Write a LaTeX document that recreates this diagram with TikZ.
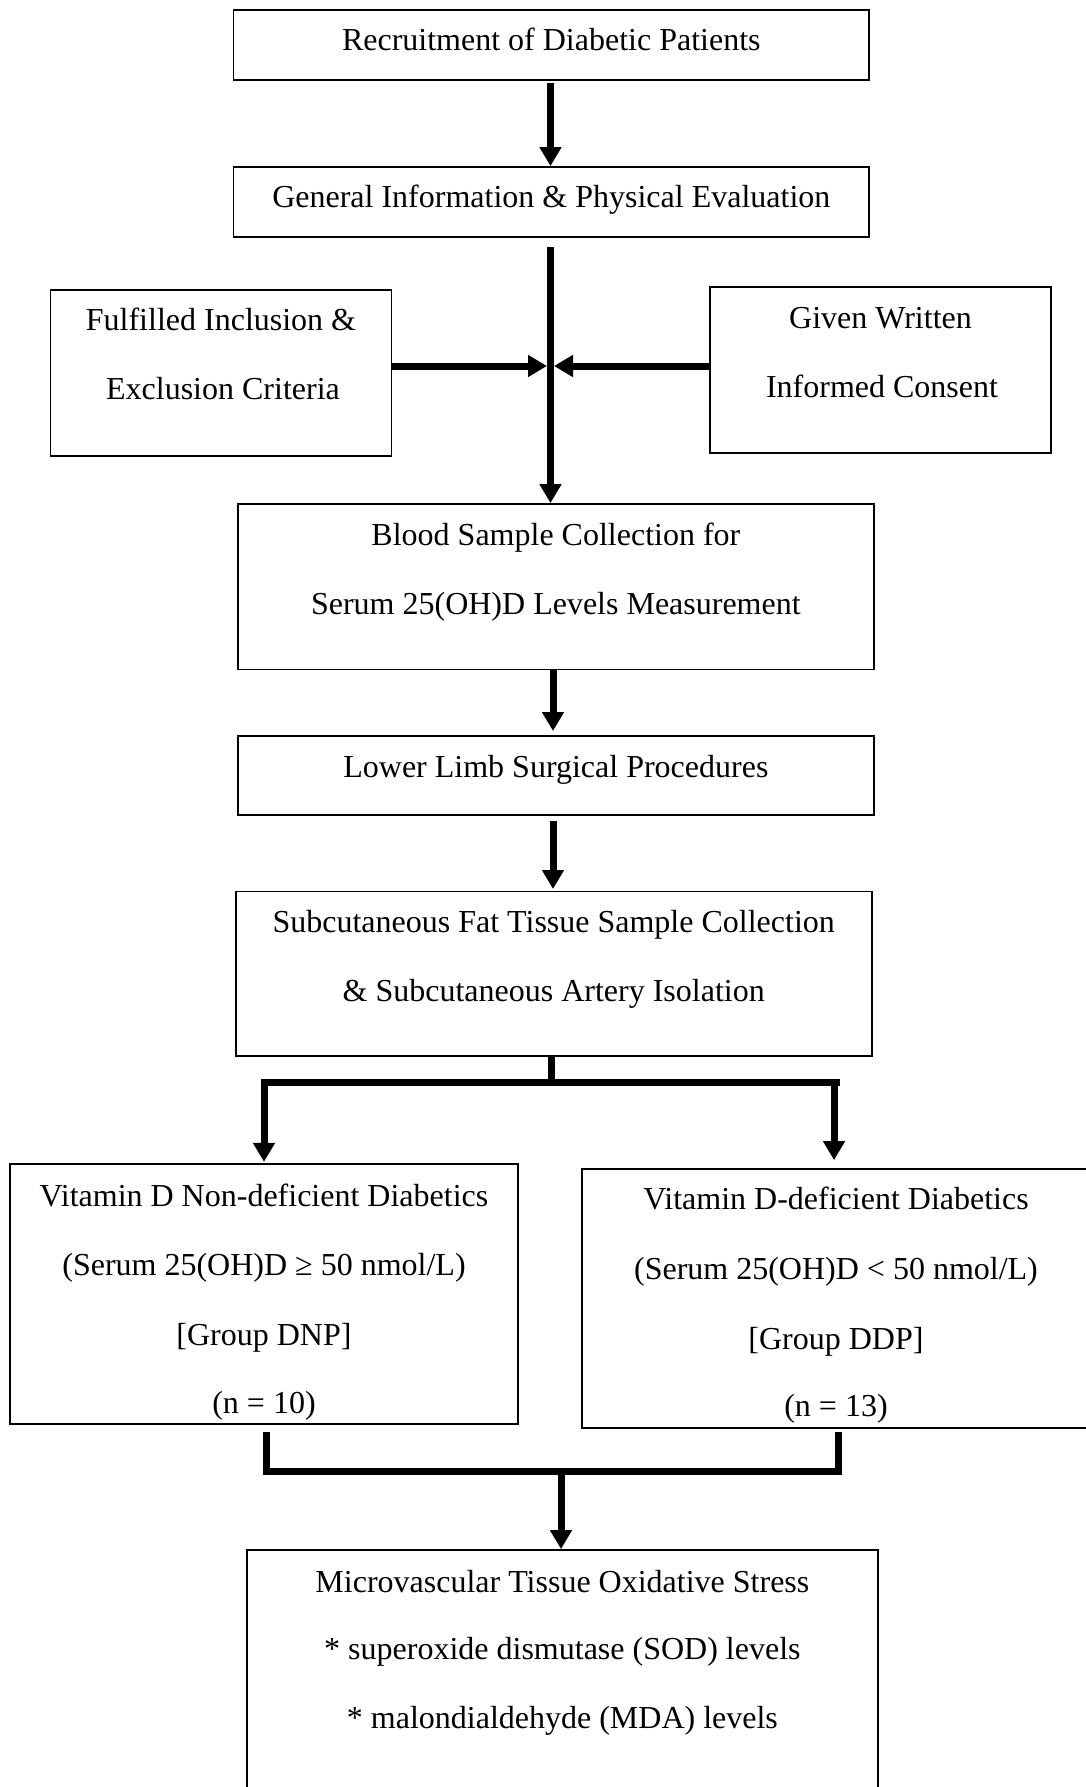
\documentclass[tikz,border=0pt]{standalone}
\usepackage{fontspec}
\setmainfont{Liberation Serif}
\usetikzlibrary{arrows.meta}
\newcommand\tfont{\fontsize{32}{38}\selectfont}
\tikzset{
  box/.style={draw, line width=1.8pt, inner sep=0pt},
  conn/.style={line width=7pt},
  arr/.style={line width=7pt, -{Triangle[length=19pt,width=21pt]}},
  txt/.style={anchor=base, inner sep=0pt, font=\tfont},
}
\begin{document}
\begin{tikzpicture}[x=1pt,y=-1pt]
\useasboundingbox (0,0) rectangle (1086,1787);
\clip (0,0) rectangle (1086,1787);
\fill[white] (0,0) rectangle (1086,1787);

% boxes
\node[box, minimum width=635.5pt, minimum height=70pt] (b1) at (551.3,45) {};
\node[box, minimum width=635.5pt, minimum height=70pt] (b2) at (551.3,202) {};
\node[box, minimum width=341pt, minimum height=165.7pt] (bl) at (221,372.8) {};
\node[box, minimum width=341pt, minimum height=165.4pt] (br) at (880.5,370) {};
\node[box, minimum width=636.3pt, minimum height=165.4pt] (b3) at (555.9,586.7) {};
\node[box, minimum width=636.3pt, minimum height=79.4pt] (b4) at (555.9,775.3) {};
\node[box, minimum width=636.2pt, minimum height=164.6pt] (b5) at (553.7,973.7) {};
\node[box, minimum width=507.3pt, minimum height=260.3pt] (g1) at (264,1293.9) {};
\node[box, minimum width=508pt, minimum height=259pt] (g2) at (836,1298.5) {};
\node[box, minimum width=631.3pt, minimum height=250pt] (b6) at (562.4,1675) {};

% texts
\node[txt] (t1) at (551.3,50.7) {Recruitment of Diabetic Patients};
\node[txt] (t2) at (551.3,208) {General Information \& Physical Evaluation};
\node[txt] (tl1) at (221,330.7) {Fulfilled Inclusion \&};
\node[txt] (tl2) at (223,399.3) {Exclusion Criteria};
\node[txt] (tr1) at (880.5,328) {Given Written};
\node[txt] (tr2) at (882,397.3) {Informed Consent};
\node[txt] (t3a) at (555.9,545) {Blood Sample Collection for};
\node[txt] (t3b) at (555.9,614) {Serum 25(OH)D Levels Measurement};
\node[txt] (t4) at (555.9,777.4) {Lower Limb Surgical Procedures};
\node[txt] (t5a) at (553.7,932.7) {Subcutaneous Fat Tissue Sample Collection};
\node[txt] (t5b) at (553.7,1001.6) {\& Subcutaneous Artery Isolation};
\node[txt] (g1a) at (264,1206) {Vitamin D Non-deficient Diabetics};
\node[txt] (g1b) at (264,1275.6) {(Serum 25(OH)D ≥ 50 nmol/L)};
\node[txt] (g1c) at (264,1345) {[Group DNP]};
\node[txt] (g1d) at (264,1413) {(n = 10)};
\node[txt] (g2a) at (836,1209.8) {Vitamin D-deficient Diabetics};
\node[txt] (g2b) at (836,1279.4) {(Serum 25(OH)D < 50 nmol/L)};
\node[txt] (g2c) at (836,1349.4) {[Group DDP]};
\node[txt] (g2d) at (836,1416.6) {(n = 13)};
\node[txt] (t6a) at (562.4,1592) {Microvascular Tissue Oxidative Stress};
\node[txt] (t6b) at (562.4,1659.6) {* superoxide dismutase (SOD) levels};
\node[txt] (t6c) at (562.4,1728.3) {* malondialdehyde (MDA) levels};

% connectors
\coordinate (hub) at (550.5,366);
\coordinate (split) at (551,1082);
\coordinate (merge) at (561,1471.5);

\draw[arr, shorten <=2pt] (b1.south -| hub) -- (b2.north -| hub);
\draw[arr, shorten <=9pt] (b2.south -| hub) -- (b3.north -| hub);
\draw[arr, shorten >=3.5pt] (bl.east |- hub) -- (hub);
\draw[arr, shorten >=3.5pt] (br.west |- hub) -- (hub);
\draw[arr] (b3.south -| 553,0) -- (553,731);
\draw[arr, shorten <=4.8pt] (b4.south -| 553,0) -- (553,889);
\draw[conn] (b5.south -| split) -- (split);
\draw[conn] (g1.north |- split) ++(-3.5,0) -- ([xshift=4pt]g2.north |- split);
\draw[arr] ([yshift=3.5pt]g1.north |- split) -- ([yshift=1pt]g1.north);
\draw[arr] ([xshift=-2pt,yshift=3.5pt]g2.north |- split) -- ([xshift=-2pt,yshift=8pt]g2.north);
\draw[conn] ([xshift=2pt,yshift=-7pt]g1.south) -- ([xshift=2pt]g1.south |- merge) -- ([xshift=2.6pt]g2.south |- merge) -- ([xshift=2.6pt,yshift=-3pt]g2.south);
\draw[arr, shorten <=-3.5pt] (merge) -- (b6.north -| merge);
\end{tikzpicture}
\end{document}
